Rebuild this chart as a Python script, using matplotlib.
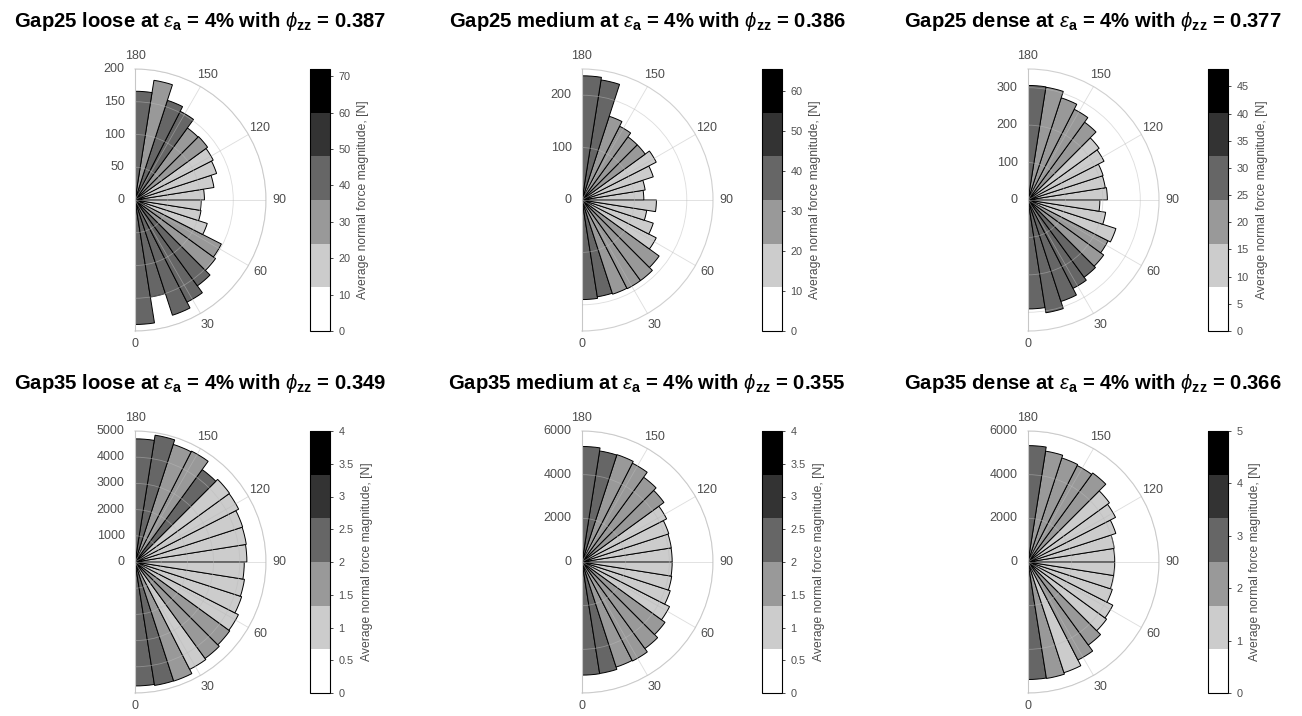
import numpy as np
import matplotlib.pyplot as plt
from matplotlib.colors import ListedColormap, Normalize
from matplotlib.cm import ScalarMappable
from matplotlib.ticker import FormatStrFormatter

plt.rcParams['font.family'] = ['Liberation Sans', 'DejaVu Sans']
plt.rcParams['mathtext.fontset'] = 'custom'
plt.rcParams['mathtext.rm'] = 'Liberation Sans'
plt.rcParams['mathtext.bf'] = 'Liberation Sans:bold'
plt.rcParams['mathtext.it'] = 'Liberation Sans:italic'

# 9 degree bins from 0 (bottom) to 180 (top)
bin_edges = np.arange(0, 181, 9)

names = ['Gap25 loose', 'Gap25 medium', 'Gap25 dense',
         'Gap35 loose', 'Gap35 medium', 'Gap35 dense']
phi_zz = [0.387, 0.386, 0.377, 0.349, 0.355, 0.366]

# contact counts per bin
counts_25_loose = [190, 150, 185, 175, 162, 152, 148, 116, 102, 101,
                   106, 122, 131, 134, 137, 136, 152, 160, 185, 166]
counts_25_medium = [190, 187, 189, 190, 190, 182, 159, 143, 125, 142,
                    118, 122, 143, 159, 149, 149, 158, 168, 232, 237]
counts_25_dense = [291, 305, 285, 265, 255, 250, 240, 247, 210, 192,
                   212, 209, 211, 228, 235, 257, 272, 287, 305, 306]
counts_35_loose = [4730, 4770, 4780, 4600, 4550, 4470, 4430, 4280, 4230, 4170,
                   4270, 4300, 4320, 4440, 4460, 4360, 4750, 4720, 4900, 4700]
counts_35_medium = [5180, 5170, 5060, 5090, 4900, 4700, 4500, 4250, 4160, 4130,
                    4130, 4140, 4180, 4350, 4640, 4800, 5080, 5170, 5150, 5290]
counts_35_dense = [5380, 5400, 5330, 5040, 4700, 4450, 4360, 4060, 3970, 3970,
                   3970, 4000, 4230, 4500, 4610, 5040, 4960, 5010, 5140, 5330]

# average normal force per bin [N]
force_25_loose = [42, 42, 42, 42, 42, 30, 30, 18, 18, 18,
                  18, 18, 18, 18, 30, 30, 42, 42, 30, 42]
force_25_medium = [38, 38, 27, 27, 27, 27, 16, 16, 16, 16,
                   16, 16, 16, 16, 27, 27, 27, 27, 38, 38]
force_25_dense = [28, 28, 28, 28, 28, 20, 20, 12, 12, 12,
                  12, 12, 12, 12, 12, 20, 20, 20, 20, 28]
force_35_loose = [2.3, 2.3, 1.7, 1.0, 1.7, 1.7, 1.0, 1.0, 1.0, 1.0,
                  1.0, 1.0, 1.0, 1.0, 1.0, 2.3, 1.7, 1.7, 2.3, 2.3]
force_35_medium = [2.3, 2.3, 1.7, 1.7, 1.7, 1.7, 1.0, 1.0, 1.0, 1.0,
                   1.0, 1.0, 1.0, 1.0, 1.7, 1.7, 1.7, 1.7, 2.3, 2.3]
force_35_dense = [2.9, 2.1, 1.25, 2.1, 2.1, 1.25, 1.25, 1.25, 1.25, 1.25,
                  1.25, 1.25, 1.25, 1.25, 1.25, 2.1, 2.1, 2.1, 2.1, 2.9]

r_max = [200, 250, 350, 5000, 6000, 6000]
r_ticks = [[0, 50, 100, 150, 200], [0, 100, 200], [0, 100, 200, 300],
           [0, 1000, 2000, 3000, 4000, 5000], [0, 2000, 4000, 6000], [0, 2000, 4000, 6000]]
force_max = [72, 65.4, 48.2, 4, 4, 5]
cbar_ticks = [np.arange(0, 71, 10), np.arange(0, 61, 10), np.arange(0, 46, 5),
              np.arange(0, 4.01, 0.5), np.arange(0, 4.01, 0.5), np.arange(0, 6, 1)]

all_counts = [counts_25_loose, counts_25_medium, counts_25_dense,
              counts_35_loose, counts_35_medium, counts_35_dense]
all_force = [force_25_loose, force_25_medium, force_25_dense,
             force_35_loose, force_35_medium, force_35_dense]

cmap = ListedColormap(plt.cm.gray_r(np.linspace(0, 1, 6)))
tick_col = '#4d4d4d'

W, H = 1302, 716
fig = plt.figure(figsize=(W / 100, H / 100), dpi=100)

for i in range(6):
    row, col = divmod(i, 3)
    cx = [135, 582, 1028][col]
    cy = [200, 562][row]
    R = 131
    # wedge is centred in a square box, origin sits at a quarter of the width
    ax = fig.add_axes([(cx - R / 2) / W, 1 - (cy + R) / H, 2 * R / W, 2 * R / H],
                      projection='polar')
    ax.set_theta_zero_location('S')
    ax.set_thetamin(0)
    ax.set_thetamax(180)

    norm = Normalize(0, force_max[i])
    theta = np.deg2rad(bin_edges[:-1])
    width = np.deg2rad(np.diff(bin_edges))
    ax.bar(theta, all_counts[i], width=width, align='edge',
           color=cmap(norm(all_force[i])), edgecolor='black', linewidth=0.7)
    ax.set_ylim(0, r_max[i])
    ax.set_yticks(r_ticks[i])
    ax.set_xticks(np.deg2rad(np.arange(0, 181, 30)))
    ax.set_xticklabels([str(t) for t in range(0, 181, 30)])
    ax.tick_params(labelsize=9, labelcolor=tick_col)
    ax.tick_params(axis='x', pad=-1)
    ax.yaxis.set_tick_params(label1On=False, label2On=True, tick1On=False, tick2On=False, pad=4)
    ax.grid(color='#bbbbbb', alpha=0.5, linewidth=0.6)
    ax.set_axisbelow(False)
    for sp in ax.spines.values():
        sp.set_color('#d0d0d0')
        sp.set_linewidth(0.8)

    fig.text((cx + 65) / W, 1 - [27, 389][row] / H,
             names[i] + r' at $\varepsilon_\mathbf{a}$ = 4% with $\phi_\mathbf{zz}$ = ' + f'{phi_zz[i]:.3f}',
             ha='center', va='baseline', fontsize=14.6, fontweight='bold')

    cbx = cx + [175, 180, 180][col]
    cax = fig.add_axes([cbx / W, 1 - (cy + R) / H, 20 / W, 2 * R / H])
    cb = fig.colorbar(ScalarMappable(norm=norm, cmap=cmap), cax=cax, ticks=cbar_ticks[i])
    cb.ax.yaxis.set_major_formatter(FormatStrFormatter('%g'))
    cb.outline.set_linewidth(0.8)
    cb.ax.tick_params(labelsize=7.8, labelcolor=tick_col, length=2, width=0.5, pad=4)
    cb.set_label('Average normal force magnitude, [N]', fontsize=8.7, color=tick_col, labelpad=5)

fig.savefig('out.png', dpi=100)
